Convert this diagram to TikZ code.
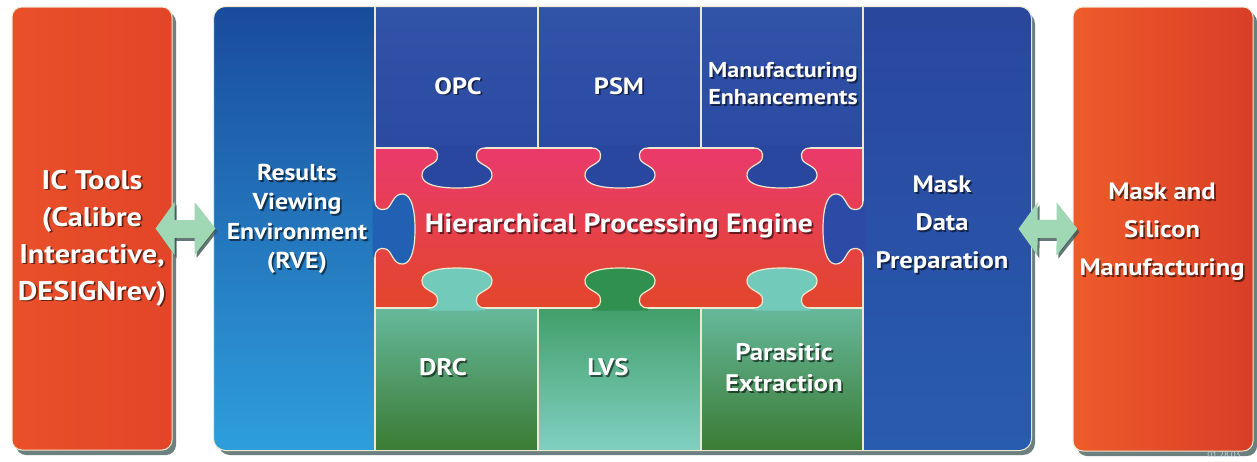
\documentclass[tikz,border=0pt]{standalone}
\usepackage{fontspec}
\setmainfont{PT Sans}[FakeStretch=1.12]
\usetikzlibrary{arrows.meta,calc,shadows}
\definecolor{seamcream}{HTML}{EFE8CF}
\definecolor{shadowteal}{HTML}{3C5656}
\definecolor{arrowgreen}{HTML}{A0D7B4}
\definecolor{topblue}{HTML}{2A47A0}
\definecolor{toplight}{HTML}{3153A8}
\definecolor{maskblue}{HTML}{2C4AA6}
\definecolor{rvetop}{HTML}{194B9C}
\definecolor{rvemid}{HTML}{2260B3}
\definecolor{rvebottom}{HTML}{2E9FDC}
\definecolor{drcteal}{HTML}{72CBBA}
\definecolor{lvsgreen}{HTML}{2F9050}
\definecolor{darkgreen}{HTML}{3B7B34}
\definecolor{midgreen}{HTML}{2BB46A}
\definecolor{pinkred}{HTML}{EA3A6C}
\definecolor{enginered}{HTML}{E8303C}
\definecolor{orangered}{HTML}{E2462B}
\definecolor{orangeedge}{HTML}{E9502A}
\definecolor{orangemid}{HTML}{F27530}
\definecolor{orangeright}{HTML}{E24528}
\definecolor{siliconleft}{HTML}{EF5B2A}
\definecolor{siliconright}{HTML}{D83E27}
\tikzset{pics/tab/.style={code={
  \fill[pic actions] (-28,-2.5) -- (-28,0) .. controls (-21,0) and (-18,5) .. (-20,11)
     .. controls (-22,17) and (-36,18) .. (-35,28)
     .. controls (-34,37) and (-18,40) .. (0,40)
     .. controls (18,40) and (34,37) .. (35,28)
     .. controls (36,18) and (22,17) .. (20,11)
     .. controls (18,5) and (21,0) .. (28,0) -- (28,-2.5) -- cycle;
  \draw[seam] (-28,0) .. controls (-21,0) and (-18,5) .. (-20,11)
     .. controls (-22,17) and (-36,18) .. (-35,28)
     .. controls (-34,37) and (-18,40) .. (0,40)
     .. controls (18,40) and (34,37) .. (35,28)
     .. controls (36,18) and (22,17) .. (20,11)
     .. controls (18,5) and (21,0) .. (28,0);
}}}
% white text with a dark drop shadow
\newcommand\boxlabel[5]{%
  \node[labelshadow, font=\bfseries\fontsize{#3}{#4}\selectfont] at ($(#2)+(1.7,1.7)$) {#5};
  \node[labeltext, font=\bfseries\fontsize{#3}{#4}\selectfont] (#1) at (#2) {#5};}
\begin{document}
\begin{tikzpicture}[x=1pt,y=-1pt,
    seam/.style={draw=seamcream, line width=1.2pt},
    panel/.style={rounded corners=#1, draw=seamcream, line width=1pt, inner sep=0pt,
      drop shadow={shadow xshift=4pt, shadow yshift=-5pt, fill=shadowteal, opacity=.75}},
    labeltext/.style={text=white, align=center, inner sep=0pt},
    labelshadow/.style={text=black, opacity=.55, align=center, inner sep=0pt},
    biarrow/.style={line width=18pt, arrows={Triangle[length=19pt,width=52pt]-Triangle[length=21pt,width=52pt]}}]
   \useasboundingbox[fill=white] (0,0) rectangle (1257,461);
   % the three panels
   \node[panel=10pt, minimum width=160pt, minimum height=443pt,
     left color=orangeedge, middle color=orangemid, right color=orangeright] (ictools) at (92,228.5) {};
   \node[panel=12pt, minimum width=817pt, minimum height=443pt, fill=maskblue] (main) at (622.5,228.5) {};
   \node[panel=10pt, minimum width=180pt, minimum height=444pt,
     left color=siliconleft, right color=siliconright] (silicon) at (1163,229) {};
   % inside of the main panel
   \begin{scope}
     \clip[rounded corners=12pt] (main.north west) rectangle (main.south east);
     \shade[top color=rvetop, middle color=rvemid, bottom color=rvebottom] (214,7) rectangle (415,450);
     \shade[top color=maskblue!95!black, bottom color=maskblue!90!cyan] (825,7) rectangle (1031,450);
     \foreach \xa/\xb in {375/538, 538/701, 701/863}
       \shade[top color=toplight, bottom color=topblue] (\xa,7) rectangle (\xb,190);
     \shade[top color=drcteal, middle color=midgreen, bottom color=darkgreen] (375,266) rectangle (538,450);
     \shade[top color=lvsgreen, bottom color=drcteal!90!white] (538,266) rectangle (701,450);
     \shade[top color=drcteal, middle color=midgreen, bottom color=darkgreen] (701,266) rectangle (863,450);
     \shade[top color=pinkred, middle color=enginered, bottom color=orangered] (375,148) rectangle (863,308);
     \draw[seam] (375,0) -- (375,461) (863,0) -- (863,461)
       (538,0) -- (538,148) (701,0) -- (701,148)
       (538,308) -- (538,461) (701,308) -- (701,461)
       (375,148) -- (863,148) (375,308) -- (863,308);
     \pic[fill=topblue] at (457,148) {tab};
     \pic[fill=topblue] at (620,148) {tab};
     \pic[fill=topblue] at (782,148) {tab};
     \pic[fill=drcteal, rotate=180] at (457,308) {tab};
     \pic[fill=lvsgreen, rotate=180] at (620,308) {tab};
     \pic[fill=drcteal, rotate=180] at (782,308) {tab};
     \pic[fill=rvemid, rotate=90] at (375,229) {tab};
     \pic[fill=maskblue, rotate=-90] at (863,229) {tab};
   \end{scope}
   \draw[seam, line width=1pt, rounded corners=12pt] (main.north west) rectangle (main.south east);
   % arrows between the panels
   \draw[biarrow, draw=shadowteal, opacity=.8, transform canvas={shift={(2pt,-3pt)}},
     shorten <=-17pt, shorten >=-2pt] (ictools) -- (main);
   \draw[biarrow, draw=arrowgreen, shorten <=-17pt, shorten >=-2pt] (ictools) -- (main);
   \draw[biarrow, draw=shadowteal, opacity=.8, transform canvas={shift={(2pt,-3pt)}},
     shorten <=-13pt, shorten >=-5pt] (main) -- (silicon);
   \draw[biarrow, draw=arrowgreen, shorten <=-13pt, shorten >=-5pt] (main) -- (silicon);
   % texts
   \boxlabel{ictext}{92,238}{27}{37}{IC Tools\\(Calibre\\Interactive,\\DESIGNrev)}
   \boxlabel{rvetext}{297,219}{23}{29.5}{Results\\Viewing\\Environment\\(RVE)}
   \boxlabel{opc}{458,86}{23.5}{27}{OPC}
   \boxlabel{psm}{619,86}{23.5}{27}{PSM}
   \boxlabel{mfg}{783,84}{21.5}{27}{Manufacturing\\Enhancements}
   \boxlabel{engine}{619,226}{26.5}{30}{Hierarchical Processing Engine}
   \boxlabel{drc}{443,367}{24}{31}{DRC}
   \boxlabel{lvs}{608,367}{24}{31}{LVS}
   \boxlabel{pex}{784,368}{24}{31}{Parasitic\\Extraction}
   \boxlabel{mdp}{942,225}{23.8}{38}{Mask\\Data\\Preparation}
   \boxlabel{mfgtext}{1162,232}{23.7}{38}{Mask and\\Silicon\\Manufacturing}
   \node[text=gray!60!cyan!40!white, font=\fontsize{8}{8}\selectfont] (date) at (1224,455) {01.28.03};
\end{tikzpicture}
\end{document}
